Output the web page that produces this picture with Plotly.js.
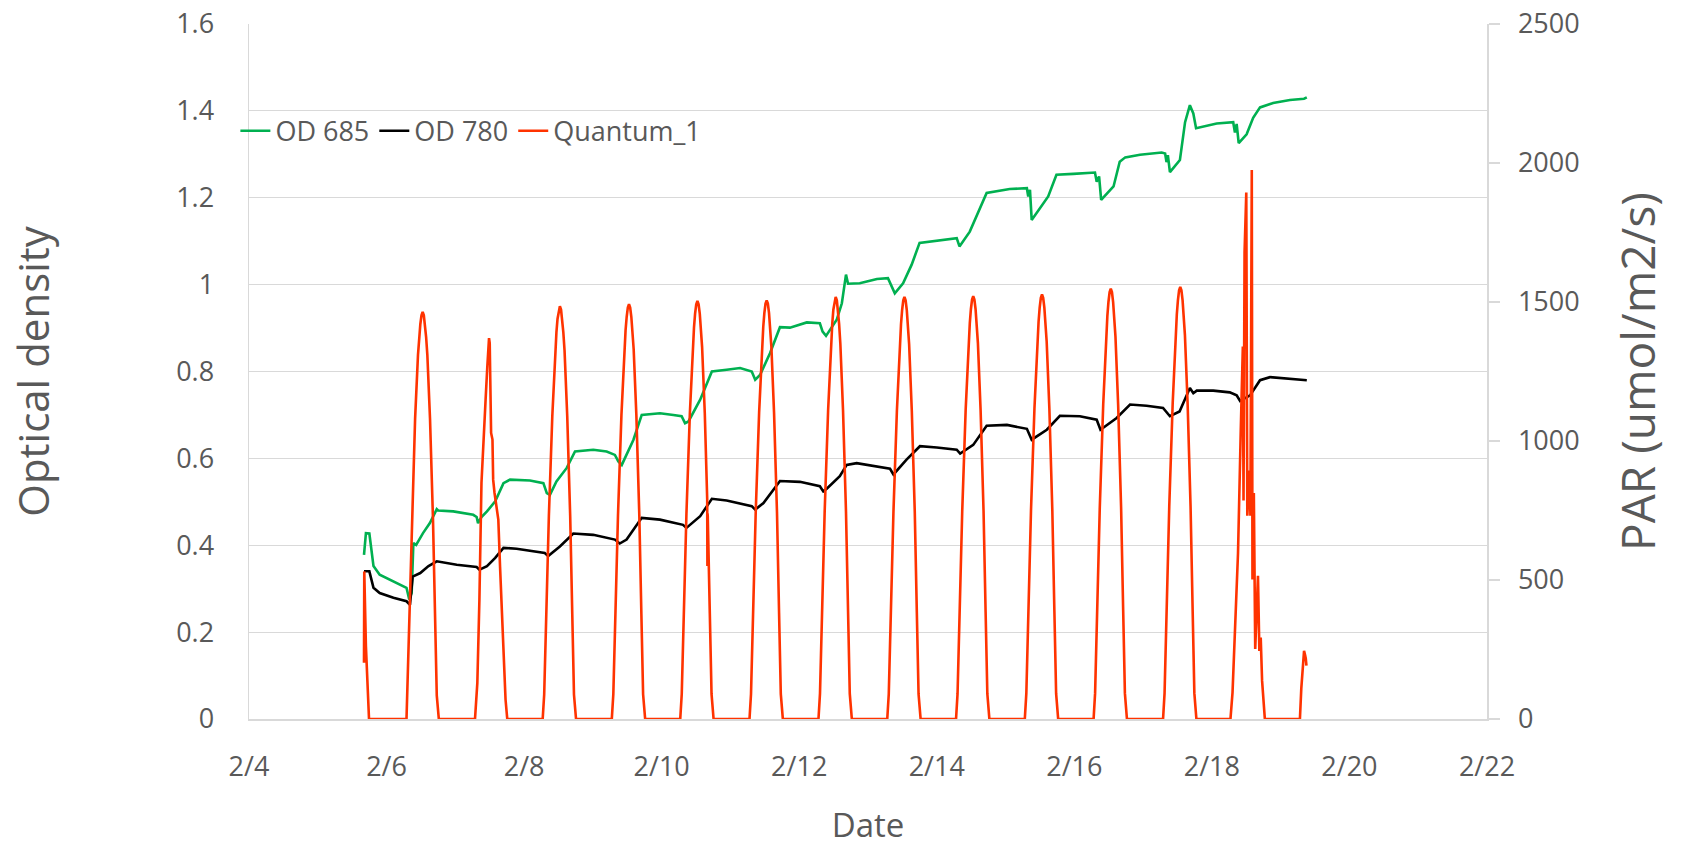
<!DOCTYPE html>
<html>
<head>
<meta charset="utf-8">
<script src="https://cdn.plot.ly/plotly-3.0.1.min.js"></script>
<style>
  html, body { margin: 0; padding: 0; background: #ffffff; }
  #chart { width: 1681px; height: 847px; }
</style>
</head>
<body>
<div id="chart"></div>
<script>
// x values are day-of-February (fractional days)
const xTickVals = [4, 6, 8, 10, 12, 14, 16, 18, 20, 22];
const xTickText = ['2/4', '2/6', '2/8', '2/10', '2/12', '2/14', '2/16', '2/18', '2/20', '2/22'];

const od685Day = [5.672,5.70,5.75,5.77,5.81,5.90,6.05,6.195,6.29,6.33,6.365,6.39,6.43,6.53,6.63,6.73,6.75,6.97,7.26,7.31,7.33,7.38,7.46,7.58,7.70,7.795,8.085,8.28,8.33,8.375,8.47,8.62,8.74,9.005,9.20,9.32,9.37,9.42,9.59,9.71,9.976,10.17,10.29,10.34,10.39,10.56,10.73,10.945,11.14,11.31,11.36,11.43,11.575,11.72,11.865,12.11,12.30,12.34,12.39,12.545,12.62,12.68,12.71,12.88,13.13,13.29,13.34,13.39,13.51,13.635,13.75,14.00,14.29,14.33,14.48,14.725,15.06,15.31,15.33,15.355,15.38,15.62,15.74,15.985,16.30,16.325,16.36,16.39,16.57,16.66,16.74,16.955,17.27,17.32,17.34,17.36,17.39,17.535,17.61,17.68,17.73,17.77,18.07,18.31,18.335,18.36,18.39,18.505,18.60,18.70,18.89,19.135,19.34,19.38];
const od685Val = [0.378,0.428,0.427,0.397,0.352,0.332,0.321,0.309,0.302,0.275,0.290,0.405,0.401,0.428,0.451,0.483,0.480,0.478,0.470,0.465,0.451,0.465,0.478,0.501,0.543,0.551,0.549,0.543,0.520,0.516,0.547,0.578,0.616,0.620,0.616,0.608,0.593,0.585,0.643,0.700,0.704,0.700,0.697,0.681,0.685,0.735,0.800,0.804,0.808,0.800,0.781,0.792,0.842,0.902,0.901,0.913,0.911,0.892,0.882,0.919,0.957,1.023,1.002,1.003,1.013,1.015,0.996,0.980,1.003,1.046,1.096,1.101,1.107,1.088,1.122,1.211,1.220,1.222,1.203,1.218,1.149,1.203,1.253,1.255,1.258,1.237,1.249,1.195,1.226,1.283,1.293,1.299,1.304,1.302,1.282,1.298,1.259,1.287,1.374,1.413,1.394,1.360,1.371,1.374,1.350,1.370,1.326,1.346,1.384,1.408,1.418,1.425,1.428,1.431];

const od780Day = [5.672,5.75,5.81,5.90,6.10,6.29,6.34,6.38,6.49,6.61,6.73,7.02,7.31,7.35,7.46,7.58,7.70,7.89,8.30,8.35,8.52,8.715,9.005,9.32,9.39,9.49,9.71,9.975,10.31,10.36,10.56,10.73,10.945,11.31,11.36,11.48,11.72,12.01,12.30,12.35,12.40,12.59,12.69,12.835,13.32,13.37,13.56,13.755,14.00,14.29,14.34,14.53,14.725,15.02,15.31,15.38,15.60,15.79,16.08,16.325,16.38,16.615,16.81,17.05,17.29,17.39,17.53,17.68,17.73,17.78,18.02,18.26,18.36,18.41,18.555,18.70,18.845,19.135,19.38];
const od780Val = [0.340,0.340,0.302,0.290,0.279,0.271,0.263,0.328,0.336,0.352,0.363,0.355,0.350,0.344,0.352,0.371,0.394,0.392,0.382,0.375,0.397,0.427,0.424,0.413,0.404,0.413,0.463,0.459,0.447,0.440,0.467,0.507,0.503,0.490,0.482,0.497,0.548,0.546,0.536,0.524,0.530,0.559,0.585,0.589,0.576,0.563,0.597,0.628,0.625,0.620,0.611,0.631,0.675,0.677,0.668,0.643,0.666,0.698,0.697,0.689,0.666,0.693,0.724,0.721,0.716,0.697,0.708,0.762,0.750,0.756,0.756,0.752,0.745,0.732,0.745,0.780,0.787,0.784,0.780];

const parDay = [
  5.672,5.676,5.70,5.745,
  6.29,6.30,6.325,6.365,6.415,6.457,6.475,6.491,6.508,6.525,6.542,6.559,6.575,6.593,6.632,6.675,6.705,6.73,6.76,
  7.286,7.32,7.35,7.38,7.41,7.44,7.465,7.49,7.50,7.52,7.54,7.55,7.57,7.60,7.625,7.65,7.70,7.73,7.755,
  8.27,8.292,8.32,8.36,8.41,8.452,8.47,8.486,8.503,8.52,8.537,8.554,8.57,8.588,8.627,8.67,8.70,8.725,8.755,
  9.275,9.297,9.325,9.365,9.415,9.457,9.475,9.491,9.508,9.525,9.542,9.559,9.575,9.593,9.632,9.675,9.705,9.73,9.76,
  10.27,10.292,10.32,10.36,10.41,10.452,10.47,10.486,10.503,10.52,10.537,10.554,10.57,10.588,10.627,10.662,10.665,10.667,10.67,10.70,10.725,10.755,
  11.277,11.299,11.327,11.367,11.417,11.459,11.477,11.493,11.51,11.527,11.544,11.561,11.577,11.595,11.634,11.677,11.707,11.732,11.762,
  12.28,12.302,12.33,12.37,12.42,12.462,12.48,12.496,12.513,12.53,12.547,12.564,12.58,12.598,12.637,12.68,12.71,12.735,12.765,
  13.28,13.302,13.33,13.37,13.42,13.462,13.48,13.496,13.513,13.53,13.547,13.564,13.58,13.598,13.637,13.68,13.71,13.735,13.765,
  14.28,14.302,14.33,14.37,14.42,14.462,14.48,14.496,14.513,14.53,14.547,14.564,14.58,14.598,14.637,14.68,14.71,14.735,14.765,
  15.28,15.302,15.33,15.37,15.42,15.462,15.48,15.496,15.513,15.53,15.547,15.564,15.58,15.598,15.637,15.68,15.71,15.735,15.765,
  16.28,16.302,16.33,16.37,16.42,16.462,16.48,16.496,16.513,16.53,16.547,16.564,16.58,16.598,16.637,16.68,16.71,16.735,16.765,
  17.29,17.312,17.34,17.38,17.43,17.472,17.49,17.506,17.523,17.54,17.557,17.574,17.59,17.608,17.647,17.69,17.72,17.745,17.775,
  18.27,18.30,18.34,18.38,18.42,18.45,18.46,18.475,18.50,18.515,18.55,18.56,18.58,18.59,18.61,18.63,18.67,18.69,18.71,18.73,18.77,
  19.28,19.30,19.34,19.355,19.365,19.375
];
const parVal = [
  202,531,262,0,
  0,85,370,720,1080,1310,1375,1420,1452,1464,1452,1420,1375,1310,1080,720,370,85,0,
  0,130,430,849,1029,1149,1268,1370,1352,1029,1005,861,813,765,717,549,250,70,0,
  0,88,375,730,1090,1325,1392,1440,1473,1485,1473,1440,1392,1325,1090,730,375,88,0,
  0,89,377,733,1093,1330,1398,1446,1480,1492,1480,1446,1398,1330,1093,733,377,89,0,
  0,90,380,738,1100,1338,1408,1458,1492,1504,1492,1458,1408,1338,1100,790,550,740,730,380,90,0,
  0,90,381,740,1102,1340,1410,1460,1494,1506,1494,1460,1410,1340,1102,740,381,90,0,
  0,91,384,746,1110,1350,1421,1472,1506,1518,1506,1472,1421,1350,1110,746,384,91,0,
  0,90,383,745,1108,1348,1420,1471,1506,1518,1506,1471,1420,1348,1108,745,383,90,0,
  0,91,385,748,1112,1352,1423,1474,1509,1521,1509,1474,1423,1352,1112,748,385,91,0,
  0,92,387,751,1116,1357,1429,1480,1515,1527,1515,1480,1429,1357,1116,751,387,92,0,
  0,93,392,761,1131,1376,1449,1500,1536,1548,1536,1500,1449,1376,1131,761,392,93,0,
  0,93,394,764,1136,1381,1455,1506,1542,1554,1542,1506,1455,1381,1136,764,394,93,0,
  0,95,330,597,1042,1340,786,1678,1894,731,894,731,1975,502,813,252,515,245,293,137,0,
  0,110,245,230,218,192
];

const GRAY = '#595959';
const LINEGRAY = '#d9d9d9';
const FONT = 'Open Sans, sans-serif';

const traces = [
  { x: od685Day, y: od685Val, name: 'OD 685', type: 'scatter', mode: 'lines',
    line: { color: '#00b050', width: 2.6 }, yaxis: 'y' },
  { x: od780Day, y: od780Val, name: 'OD 780', type: 'scatter', mode: 'lines',
    line: { color: '#000000', width: 2.6 }, yaxis: 'y' },
  { x: parDay, y: parVal, name: 'Quantum_1', type: 'scatter', mode: 'lines',
    line: { color: '#ff3300', width: 2.6 }, yaxis: 'y2' }
];

const layout = {
  width: 1681, height: 847,
  paper_bgcolor: '#ffffff', plot_bgcolor: '#ffffff',
  margin: { l: 249, r: 194, t: 24, b: 128 },
  font: { family: FONT, color: GRAY, size: 27 },
  showlegend: true,
  legend: {
    orientation: 'h', x: -0.011, xanchor: 'left', y: 0.8457, yanchor: 'middle',
    bgcolor: 'rgba(0,0,0,0)', font: { family: FONT, size: 27, color: GRAY },
    itemwidth: 30, tracegroupgap: 0
  },
  xaxis: {
    range: [4, 22], tickmode: 'array', tickvals: xTickVals, ticktext: xTickText,
    showgrid: false, zeroline: false, showline: true, linecolor: LINEGRAY, linewidth: 1.5,
    ticks: '', ticklabelstandoff: 23,
    tickfont: { family: FONT, size: 27, color: GRAY },
    title: { text: 'Date', font: { family: FONT, size: 33, color: GRAY }, standoff: 36 }
  },
  yaxis: {
    range: [0, 1.6], dtick: 0.2, tick0: 0,
    showgrid: true, gridcolor: LINEGRAY, gridwidth: 1, zeroline: false,
    showline: true, linecolor: LINEGRAY, linewidth: 1.5, ticks: '',
    ticklabelstandoff: 28,
    tickfont: { family: FONT, size: 27, color: GRAY },
    title: { text: 'Optical density', font: { family: FONT, size: 42, color: GRAY }, standoff: 113 }
  },
  yaxis2: {
    overlaying: 'y', side: 'right', anchor: 'x',
    range: [0, 2500], dtick: 500, tick0: 0,
    showgrid: false, zeroline: false, showline: true, linecolor: LINEGRAY, linewidth: 1.5,
    ticks: 'outside', ticklen: 11, tickcolor: LINEGRAY, tickwidth: 1.5,
    ticklabelstandoff: 13,
    tickfont: { family: FONT, size: 27, color: GRAY },
    title: { text: 'PAR (umol/m2/s)', font: { family: FONT, size: 46, color: GRAY }, standoff: 44 }
  }
};

Plotly.newPlot('chart', traces, layout, { displayModeBar: false, staticPlot: true });
</script>
</body>
</html>
